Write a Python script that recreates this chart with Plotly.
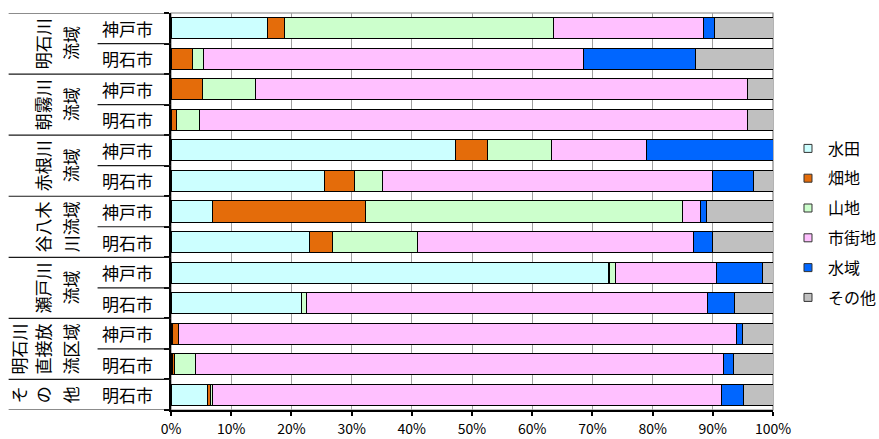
import plotly.graph_objects as go

# Land-use share (%) by basin and city, top row first
cities = ["神戸市", "明石市", "神戸市", "明石市", "神戸市", "明石市", "神戸市",
          "明石市", "神戸市", "明石市", "神戸市", "明石市", "明石市"]
paddy = [16.1, 0.0, 0.0, 0.0, 47.3, 25.5, 6.9, 23.0, 72.7, 21.7, 0.3, 0.2, 6.1]
field = [2.7, 3.5, 5.3, 0.9, 5.3, 5.0, 25.4, 3.8, 0.2, 0.0, 1.0, 0.3, 0.4]
forest = [44.7, 1.9, 8.7, 3.8, 10.6, 4.7, 52.6, 14.1, 0.9, 0.8, 0.0, 3.6, 0.4]
urban = [24.9, 63.2, 81.7, 91.1, 15.8, 54.7, 3.0, 45.9, 16.8, 66.6, 92.6, 87.7, 84.5]
water = [1.9, 18.6, 0.0, 0.0, 21.0, 6.8, 1.1, 3.2, 7.6, 4.5, 1.0, 1.6, 3.7]
other = [9.7, 12.8, 4.3, 4.2, 0.0, 3.3, 11.0, 10.0, 1.8, 6.4, 5.1, 6.6, 4.9]

series_names = ["水田", "畑地", "山地", "市街地", "水域", "その他"]
series_values = [paddy, field, forest, urban, water, other]
series_colors = ["#CCFFFF", "#E46C0A", "#CCFFCC", "#FFC0FF", "#0066FF", "#C0C0C0"]

# Basin groups: label columns (wrapped, rotated) and number of rows each spans
group_columns = [["明石川", "流域"], ["朝霧川", "流域"], ["赤根川", "流域"],
                 ["谷八木", "川流域"], ["瀬戸川", "流域"],
                 ["明石川", "直接放", "流区域"], ["そ", "の", "他"]]
group_sizes = [2, 2, 2, 2, 2, 2, 1]

xticks = list(range(0, 101, 10))
rows = list(range(len(cities)))

W, H = 879, 439
L, R, T, B = 170.5, 773, 13, 410
FONT = "Noto Sans CJK JP, Noto Sans, sans-serif"


def px_to_paper(px):
    return (px - L) / (R - L)


fig = go.Figure()
for name, vals, col in zip(series_names, series_values, series_colors):
    fig.add_trace(go.Bar(
        x=vals, y=rows, orientation="h", name=name, marker_color=col,
        marker_line=dict(color="#000000", width=1), showlegend=False,
    ))
# Small square swatches for the legend
for i, (name, col) in enumerate(zip(series_names, series_colors)):
    fig.add_trace(go.Scatter(
        x=[None], y=[None], mode="markers", name=name, legendgroup=f"g{i}",
        marker=dict(symbol="square", size=8, color=col,
                    line=dict(color="#333333", width=1)),
    ))

shapes = []
annotations = []

# City labels and separators in the label area
for i, c in enumerate(cities):
    annotations.append(dict(
        x=px_to_paper(127), xref="paper", y=i, yref="y", text=c,
        showarrow=False, font=dict(size=17, color="#000000", family=FONT),
        xanchor="center", yanchor="middle",
    ))

start = 0
for cols, n in zip(group_columns, group_sizes):
    centre = start + (n - 1) / 2
    xs = [70, 42, 18][:len(cols)][::-1]
    for text, xp in zip(cols, xs):
        annotations.append(dict(
            x=px_to_paper(xp), xref="paper", y=centre, yref="y", text=text,
            textangle=-90, showarrow=False,
            font=dict(size=17, color="#000000", family=FONT),
            xanchor="center", yanchor="middle",
        ))
    # city separators inside the group
    for k in range(1, n):
        yb = start + k - 0.5
        shapes.append(dict(type="line", xref="paper", yref="y",
                           x0=px_to_paper(97), x1=0, y0=yb, y1=yb,
                           line=dict(color="#1a1a1a", width=1.2)))
    start += n

# group separators (including top and bottom)
bounds = [-0.5]
acc = -0.5
for n in group_sizes:
    acc += n
    bounds.append(acc)
for yb in bounds:
    shapes.append(dict(type="line", xref="paper", yref="y",
                       x0=px_to_paper(8), x1=0, y0=yb, y1=yb,
                       line=dict(color="#1a1a1a", width=1.2)))

# plot-area frame
shapes.append(dict(type="rect", xref="paper", yref="paper", x0=0, x1=1, y0=0, y1=1,
                   line=dict(color="#808080", width=1.2), layer="below"))

fig.update_layout(
    width=W, height=H,
    margin=dict(l=L, r=W - R, t=T, b=H - B, pad=0, autoexpand=False),
    barmode="stack", bargap=0.31,
    plot_bgcolor="#FFFFFF", paper_bgcolor="#FFFFFF",
    font=dict(family=FONT, color="#000000"),
    shapes=shapes, annotations=annotations,
    legend=dict(x=px_to_paper(788), xref="paper", xanchor="left",
                y=(B - 223) / (B - T), yanchor="middle",
                font=dict(size=16, family=FONT),
                tracegroupgap=6, bgcolor="rgba(0,0,0,0)", itemwidth=30),
    xaxis=dict(range=[0, 100], tickvals=xticks, ticktext=[f"{v}%" for v in xticks],
               showgrid=True, gridcolor="#A0A0A0", gridwidth=1.2,
               showline=True, linecolor="#000000", linewidth=2,
               ticks="outside", ticklen=4, tickcolor="#000000", tickwidth=1.5,
               tickfont=dict(size=14, family=FONT), zeroline=False,
               ticklabelstandoff=1),
    yaxis=dict(range=[len(cities) - 0.5, -0.5], showgrid=False, showticklabels=False,
               tickvals=[r - 0.5 for r in range(len(cities) + 1)],
               ticks="outside", ticklen=5, tickcolor="#000000", tickwidth=1.5,
               showline=True, linecolor="#000000", linewidth=2, zeroline=False),
)

fig.write_html("out.html")
